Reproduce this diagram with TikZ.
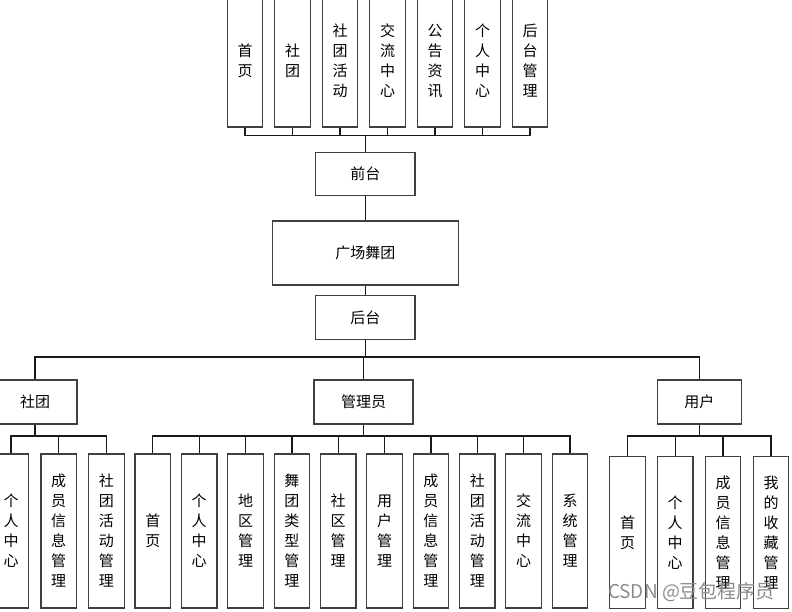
\documentclass[tikz,border=0pt]{standalone}
\usepackage{fontspec}
\newfontfamily\cjk{Noto Sans CJK SC}
\tikzset{
    box/.style={draw=black!75, line width=1.2pt, inner sep=0pt, align=center,
        font=\cjk\fontsize{15}{20}\selectfont},
    topbox/.style={box, minimum width=35.5pt, minimum height=132pt},
    leafbox/.style={box, minimum width=35.5pt, minimum height=154pt},
    userleaf/.style={box, minimum width=35.5pt, minimum height=151.6pt},
    midbox/.style={box, minimum width=99.3pt, minimum height=43.7pt},
    link/.style={black!90, line width=1.2pt},
}
\begin{document}
\begin{tikzpicture}[x=1pt,y=-1pt]
    \useasboundingbox (0,0) rectangle (792,611);
    \clip (0,0) rectangle (792,611);
    % front-end menus
    \node[topbox] (home) at (245,61) {首\\页};
    \node[topbox] (club) at (292.5,61) {社\\团};
    \node[topbox] (event) at (340,61) {社\\团\\活\\动};
    \node[topbox] (forum) at (387.5,61) {交\\流\\中\\心};
    \node[topbox] (news) at (435,61) {公\\告\\资\\讯};
    \node[topbox] (mine) at (482.5,61) {个\\人\\中\\心};
    \node[topbox] (admin) at (530,61) {后\\台\\管\\理};
    \coordinate (fbus) at (365.3,135.5);
    \node[midbox] (front) at (365.3,174) {前台};
    \node[box, minimum width=186pt, minimum height=64pt] (dance) at (365.3,253) {广场舞团};
    \node[midbox] (back) at (365.3,317.5) {后台};
    \draw[link] (home.south) |- (fbus);
    \draw[link] (club.south) |- (fbus);
    \draw[link] (event.south) |- (fbus);
    \draw[link] (forum.south) |- (fbus);
    \draw[link] (news.south) |- (fbus);
    \draw[link] (mine.south) |- (fbus);
    \draw[link] (admin.south) |- (fbus);
    \draw[link] (fbus) -- (front.north);
    \draw[link] (front.south) -- (dance.north);
    \draw[link] (dance.south) -- (back.north);
    % roles
    \coordinate (rbus) at (365.3,357);
    \node[box, minimum width=84pt, minimum height=44pt] (rclub) at (35,402) {社团};
    \node[box, minimum width=99pt, minimum height=44pt] (radmin) at (363.5,402) {管理员};
    \node[box, minimum width=84pt, minimum height=44pt] (ruser) at (699.3,402) {用户};
    \draw[link] (back.south) -- (rbus);
    \draw[link] (rclub.north) |- (rbus);
    \draw[link] (radmin.north) |- (rbus);
    \draw[link] (ruser.north) |- (rbus);
    % club functions
    \coordinate (cbus) at (35,436);
    \node[leafbox] (c1) at (11,531) {个\\人\\中\\心};
    \node[leafbox] (c2) at (58.7,531) {成\\员\\信\\息\\管\\理};
    \node[leafbox] (c3) at (106.4,531) {社\\团\\活\\动\\管\\理};
    \draw[link] (rclub.south) -- (cbus);
    \draw[link] (c1.north) |- (cbus);
    \draw[link] (c2.north) |- (cbus);
    \draw[link] (c3.north) |- (cbus);
    % admin functions
    \coordinate (abus) at (363.5,436);
    \node[leafbox] (a1) at (152.8,531) {首\\页};
    \node[leafbox] (a2) at (199.2,531) {个\\人\\中\\心};
    \node[leafbox] (a3) at (245.5,531) {地\\区\\管\\理};
    \node[leafbox] (a4) at (291.9,531) {舞\\团\\类\\型\\管\\理};
    \node[leafbox] (a5) at (338.2,531) {社\\区\\管\\理};
    \node[leafbox] (a6) at (384.6,531) {用\\户\\管\\理};
    \node[leafbox] (a7) at (430.9,531) {成\\员\\信\\息\\管\\理};
    \node[leafbox] (a8) at (477.3,531) {社\\团\\活\\动\\管\\理};
    \node[leafbox] (a9) at (523.6,531) {交\\流\\中\\心};
    \node[leafbox] (a10) at (570,531) {系\\统\\管\\理};
    \draw[link] (radmin.south) -- (abus);
    \draw[link] (a1.north) |- (abus);
    \draw[link] (a2.north) |- (abus);
    \draw[link] (a3.north) |- (abus);
    \draw[link] (a4.north) |- (abus);
    \draw[link] (a5.north) |- (abus);
    \draw[link] (a6.north) |- (abus);
    \draw[link] (a7.north) |- (abus);
    \draw[link] (a8.north) |- (abus);
    \draw[link] (a9.north) |- (abus);
    \draw[link] (a10.north) |- (abus);
    % user functions
    \coordinate (ubus) at (699.3,436);
    \node[userleaf] (u1) at (627.5,532.5) {首\\页};
    \node[userleaf] (u2) at (675.2,532.5) {个\\人\\中\\心};
    \node[userleaf] (u3) at (723,532.5) {成\\员\\信\\息\\管\\理};
    \node[userleaf] (u4) at (771,532.5) {我\\的\\收\\藏\\管\\理};
    \draw[link] (ruser.south) -- (ubus);
    \draw[link] (u1.north) |- (ubus);
    \draw[link] (u2.north) |- (ubus);
    \draw[link] (u3.north) |- (ubus);
    \draw[link] (u4.north) |- (ubus);
    \node[text=black!45, font=\cjk\fontsize{19}{21}\selectfont] (mark) at (691.5,592) {CSDN @豆包程序员};
\end{tikzpicture}
\end{document}
